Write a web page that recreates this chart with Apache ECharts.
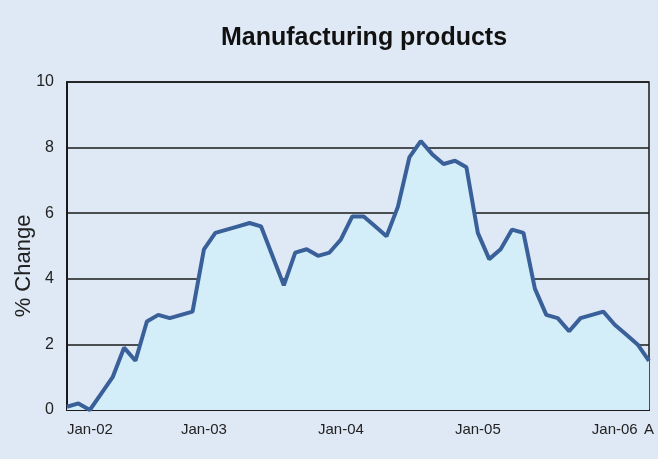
<!DOCTYPE html>
<html>
<head>
<meta charset="utf-8">
<script src="https://cdn.jsdelivr.net/npm/echarts@6/dist/echarts.min.js"></script>
<style>
  html, body { margin: 0; padding: 0; background: #dfe9f5; }
  #chart { width: 658px; height: 459px; }
</style>
</head>
<body>
<div id="chart"></div>
<script>
// monthly, Jan-02 .. Apr-06
const months = [
  'Jan-02','Feb-02','Mar-02','Apr-02','May-02','Jun-02','Jul-02','Aug-02','Sep-02','Oct-02','Nov-02','Dec-02',
  'Jan-03','Feb-03','Mar-03','Apr-03','May-03','Jun-03','Jul-03','Aug-03','Sep-03','Oct-03','Nov-03','Dec-03',
  'Jan-04','Feb-04','Mar-04','Apr-04','May-04','Jun-04','Jul-04','Aug-04','Sep-04','Oct-04','Nov-04','Dec-04',
  'Jan-05','Feb-05','Mar-05','Apr-05','May-05','Jun-05','Jul-05','Aug-05','Sep-05','Oct-05','Nov-05','Dec-05',
  'Jan-06','Feb-06','Mar-06','Apr-06'
];

const pctChange = [
  0.1, 0.2, 0.0, 0.5, 1.0, 1.9, 1.5, 2.7, 2.9, 2.8, 2.9, 3.0,
  4.9, 5.4, 5.5, 5.6, 5.7, 5.6, 4.7, 3.8, 4.8, 4.9, 4.7, 4.8,
  5.2, 5.9, 5.9, 5.6, 5.3, 6.2, 7.7, 8.2, 7.8, 7.5, 7.6, 7.4,
  5.4, 4.6, 4.9, 5.5, 5.4, 3.7, 2.9, 2.8, 2.4, 2.8, 2.9, 3.0,
  2.6, 2.3, 2.0, 1.5
];

// which months get a label on the axis, and what it says
const tickLabels = {
  'Jan-02': 'Jan-02',
  'Jan-03': 'Jan-03',
  'Jan-04': 'Jan-04',
  'Jan-05': 'Jan-05',
  'Jan-06': 'Jan-06',
  'Apr-06': 'A'
};

const yTicks = [0, 2, 4, 6, 8, 10];

const chart = echarts.init(document.getElementById('chart'));

chart.setOption({
  backgroundColor: '#dfe9f5',
  animation: false,
  textStyle: { fontFamily: 'Liberation Sans, Arial, sans-serif' },
  title: {
    text: 'Manufacturing products',
    left: 359,
    top: 21,
    textAlign: 'center',
    textStyle: { fontSize: 25, fontWeight: 'bold', color: '#111' }
  },
  grid: {
    left: 67, right: 9, top: 82, bottom: 49,
    show: true,
    borderColor: '#1a1a1a',
    borderWidth: 1.5,
    backgroundColor: 'transparent'
  },
  xAxis: {
    type: 'category',
    data: months,
    boundaryGap: false,
    axisLine: { show: true, lineStyle: { color: '#1a1a1a', width: 2 } },
    axisTick: { show: false },
    axisLabel: {
      color: '#222',
      fontSize: 15,
      margin: 12,
      alignMinLabel: 'left',
      interval: function (i) { return tickLabels[months[i]] !== undefined; },
      formatter: function (v) { return tickLabels[v] || ''; }
    }
  },
  yAxis: {
    type: 'value',
    min: yTicks[0],
    max: yTicks[yTicks.length - 1],
    interval: 2,
    axisLine: { show: true, lineStyle: { color: '#1a1a1a', width: 2 } },
    axisTick: { show: false },
    axisLabel: { color: '#222', fontSize: 16, margin: 13 },
    splitLine: { lineStyle: { color: '#1a1a1a', width: 1.5 } }
  },
  graphic: [{
    type: 'text',
    rotation: Math.PI / 2,
    x: 24, y: 266,
    style: {
      text: '% Change',
      fontSize: 22,
      fontFamily: 'Liberation Sans, Arial, sans-serif',
      fill: '#222',
      align: 'center',
      verticalAlign: 'middle'
    }
  }],
  series: [{
    type: 'line',
    data: pctChange,
    symbol: 'none',
    lineStyle: { color: '#3a6099', width: 4 },
    areaStyle: { color: '#d3edf9', opacity: 1 },
    z: 3
  }]
});
</script>
</body>
</html>
